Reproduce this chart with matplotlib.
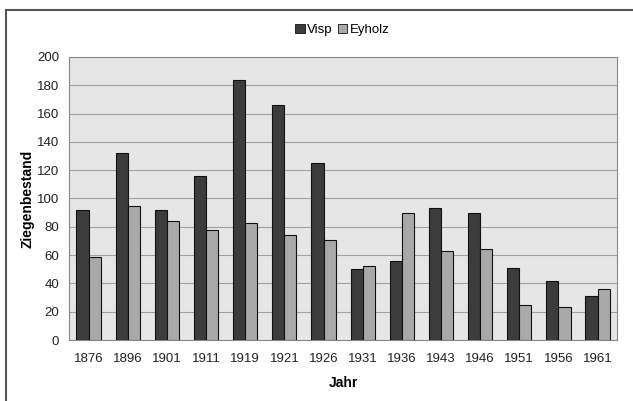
import matplotlib
matplotlib.use('Agg')
import matplotlib.pyplot as plt
import numpy as np
from matplotlib.lines import Line2D
from matplotlib.patches import Patch

plt.rcParams['font.family'] = ['Liberation Sans', 'DejaVu Sans']

# Ziegenbestand pro Jahr
years = ['1876', '1896', '1901', '1911', '1919', '1921', '1926',
         '1931', '1936', '1943', '1946', '1951', '1956', '1961']
visp = [92, 132, 92, 116, 184, 166, 125, 50, 56, 93, 90, 51, 42, 31]
eyholz = [59, 95, 84, 78, 83, 74, 71, 52, 90, 63, 64, 25, 23, 36]

visp_color = '#3c3c3c'
eyholz_color = '#a9a9a9'

fig = plt.figure(figsize=(6.33, 4.01), dpi=100)
ax = fig.add_axes([0.109, 0.152, 0.866, 0.706])

x = np.arange(len(years))
w = 0.31
ax.bar(x - w / 2, visp, width=w, color=visp_color, edgecolor='#111111', linewidth=0.8, zorder=3)
ax.bar(x + w / 2, eyholz, width=w, color=eyholz_color, edgecolor='#111111', linewidth=0.8, zorder=3)

ax.set_facecolor('#e6e6e6')
ax.set_xlim(-0.5, len(years) - 0.5)
ax.set_ylim(0, 200)
ax.set_yticks(range(0, 201, 20))
ax.yaxis.grid(True, color='#a0a0a0', linewidth=0.8, zorder=1)
ax.set_xticks(x)
ax.set_xticklabels(years)
ax.tick_params(axis='x', labelsize=9.5, length=0, pad=9, colors='#222222')
ax.tick_params(axis='y', labelsize=9.5, length=0, pad=7, colors='#222222')
for s in ax.spines.values():
    s.set_color('#888888')
    s.set_linewidth(0.8)

ax.set_ylabel('Ziegenbestand', fontsize=10, fontweight='bold', labelpad=2)
ax.set_xlabel('Jahr', fontsize=10, fontweight='bold', labelpad=8)

handles = [Patch(facecolor=visp_color, edgecolor='#111111', linewidth=0.6),
           Patch(facecolor=eyholz_color, edgecolor='#111111', linewidth=0.6)]
fig.legend(handles, ['Visp', 'Eyholz'], loc='center', bbox_to_anchor=(0.541, 0.925),
           ncol=2, frameon=False, fontsize=9.5, handlelength=0.7, handleheight=0.7,
           handletextpad=0.2, columnspacing=0.4)

# outer frame (scan border, cut off at right and bottom)
fig.add_artist(Line2D([6 / 633, 1.0], [1 - 10 / 401, 1 - 10 / 401], color='#555555', linewidth=1.5))
fig.add_artist(Line2D([6 / 633, 6 / 633], [0.0, 1 - 10 / 401], color='#555555', linewidth=1.5))

fig.savefig('out.png', dpi=100, facecolor='white')
